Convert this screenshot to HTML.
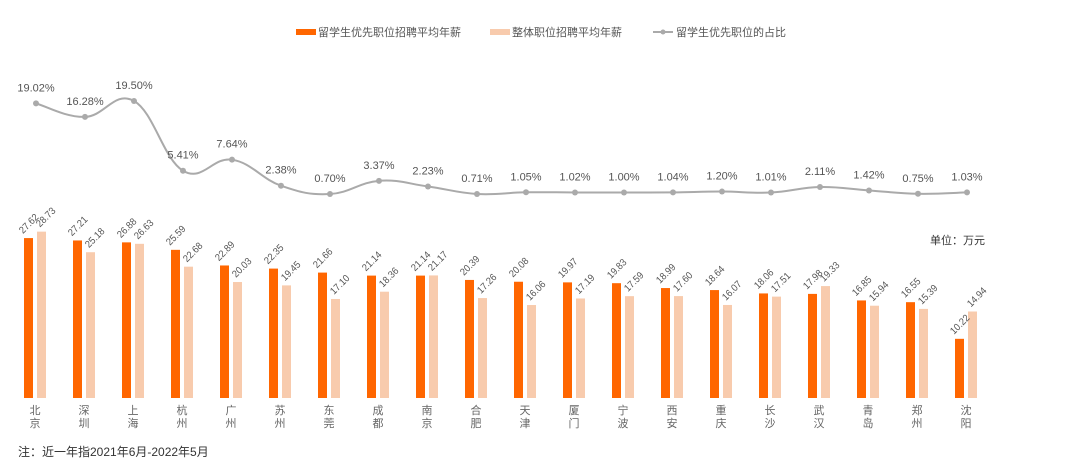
<!DOCTYPE html>
<html><head><meta charset="utf-8"><style>
html,body{margin:0;padding:0;background:#fff;}
svg{display:block;font-family:"Liberation Sans","Noto Sans CJK SC",sans-serif;}
</style></head><body>
<svg id="c" width="1085" height="464" viewBox="0 0 1085 464" xmlns="http://www.w3.org/2000/svg">
<rect x="296" y="29" width="20" height="6" fill="#ff6600"/>
<text x="318" y="36" font-size="11" fill="#555">留学生优先职位招聘平均年薪</text>
<rect x="490" y="29" width="20" height="6" fill="#f8cbad"/>
<text x="512" y="36" font-size="11" fill="#555">整体职位招聘平均年薪</text>
<line x1="653" y1="32" x2="673" y2="32" stroke="#aaa" stroke-width="2"/>
<circle cx="663" cy="32" r="2.5" fill="#aaa"/>
<text x="676" y="36" font-size="11" fill="#555">留学生优先职位的占比</text>
<text x="930" y="244" font-size="11" fill="#333">单位：万元</text>
<text x="18" y="456" font-size="12" fill="#333">注：近一年指2021年6月-2022年5月</text>
<g id="g"></g>
</svg>
<script>
var cities=["北京","深圳","上海","杭州","广州","苏州","东莞","成都","南京","合肥","天津","厦门","宁波","西安","重庆","长沙","武汉","青岛","郑州","沈阳"];
var a=[27.62,27.21,26.88,25.59,22.89,22.35,21.66,21.14,21.14,20.39,20.08,19.97,19.83,18.99,18.64,18.06,17.98,16.85,16.55,10.22];
var b=[28.73,25.18,26.63,22.68,20.03,19.45,17.10,18.36,21.17,17.26,16.06,17.19,17.59,17.60,16.07,17.51,19.33,15.94,15.39,14.94];
var p=[19.02,16.28,19.50,5.41,7.64,2.38,0.70,3.37,2.23,0.71,1.05,1.02,1.00,1.04,1.20,1.01,2.11,1.42,0.75,1.03];
var s="",base=398,k=5.79;
var pts=[];
for(var i=0;i<20;i++){
 var x=24+49*i;
 var ha=a[i]*k,hb=b[i]*k;
 s+='<rect x="'+x+'" y="'+(base-ha)+'" width="9" height="'+ha+'" fill="#ff6600"/>';
 s+='<rect x="'+(x+13)+'" y="'+(base-hb)+'" width="9" height="'+hb+'" fill="#f8cbad"/>';
 var tx=x-1,ty=base-ha-4;
 s+='<text x="'+tx+'" y="'+ty+'" font-size="10" fill="#555" textLength="23" lengthAdjust="spacingAndGlyphs" transform="rotate(-45 '+tx+' '+ty+')">'+a[i].toFixed(2)+'</text>';
 tx=x+16;ty=base-hb-4;
 s+='<text x="'+tx+'" y="'+ty+'" font-size="10" fill="#555" textLength="23" lengthAdjust="spacingAndGlyphs" transform="rotate(-45 '+tx+' '+ty+')">'+b[i].toFixed(2)+'</text>';
 var cx=x+11;
 s+='<text x="'+cx+'" y="414" font-size="11" fill="#666" text-anchor="middle">'+cities[i][0]+'</text>';
 s+='<text x="'+cx+'" y="427" font-size="11" fill="#666" text-anchor="middle">'+cities[i][1]+'</text>';
 var py=197.5-4.95*p[i];
 pts.push([cx+1,py]);
}
var d="M"+pts[0][0]+","+pts[0][1];
for(var i=0;i<19;i++){
 var p0=pts[Math.max(i-1,0)],p1=pts[i],p2=pts[i+1],p3=pts[Math.min(i+2,19)];
 var t=0.2;
 d+=" C"+(p1[0]+(p2[0]-p0[0])*t)+","+(p1[1]+(p2[1]-p0[1])*t)+" "+(p2[0]-(p3[0]-p1[0])*t)+","+(p2[1]-(p3[1]-p1[1])*t)+" "+p2[0]+","+p2[1];
}
s+='<path d="'+d+'" fill="none" stroke="#aaa" stroke-width="2"/>';
for(var i=0;i<20;i++){
 s+='<circle cx="'+pts[i][0]+'" cy="'+pts[i][1]+'" r="3" fill="#aaa"/>';
 s+='<text x="'+pts[i][0]+'" y="'+(pts[i][1]-12)+'" font-size="11" fill="#555" text-anchor="middle">'+p[i].toFixed(2)+'%</text>';
}
document.getElementById("g").innerHTML=s;
</script>
</body></html>
